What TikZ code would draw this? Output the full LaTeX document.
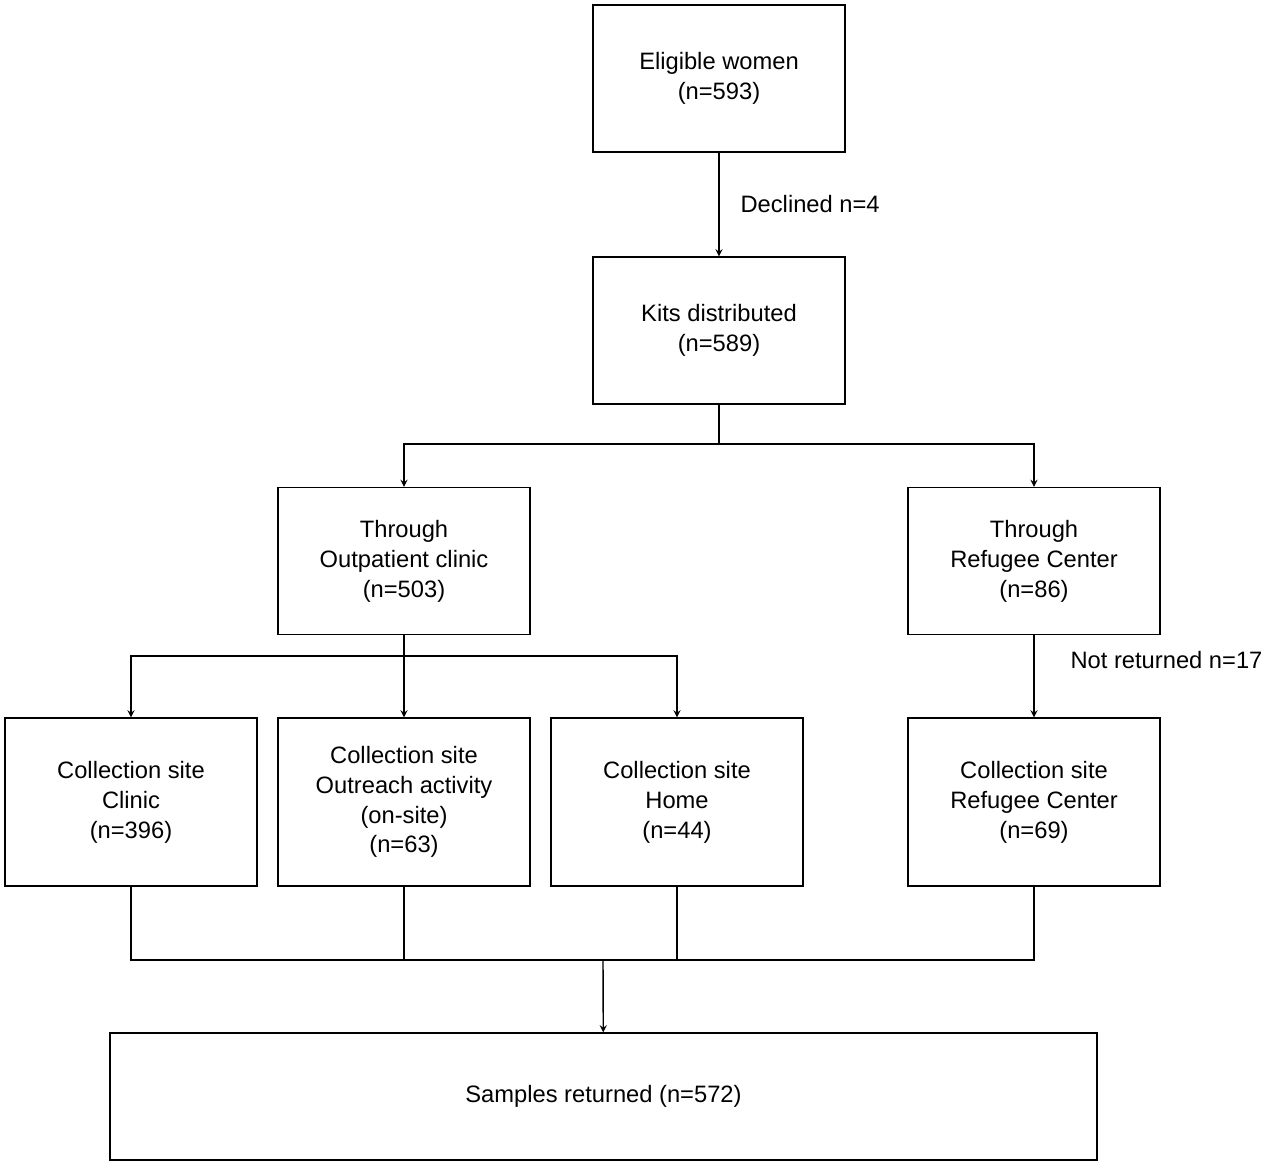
\documentclass[tikz,border=0pt]{standalone}
\usepackage{fontspec}
\setmainfont{Liberation Sans}
\usetikzlibrary{positioning}
\begin{document}
\begin{tikzpicture}[x=0.02cm,y=-0.02cm,>=stealth,thick,
  box/.style={draw,align=center,minimum width=5.04cm,minimum height=2.94cm,font=\fontsize{13.5}{17}\selectfont},
  site/.style={box,minimum height=3.36cm},
  lbl/.style={font=\fontsize{13.5}{17}\selectfont}]
\useasboundingbox (0,0) rectangle (1280,1171);

\node[box] (elig) at (719,78.5) {Eligible women\\(n=593)};
\node[box] (kits) at (719,330.5) {Kits distributed\\(n=589)};
\node[box] (outp) at (404,561) {Through\\Outpatient clinic\\(n=503)};
\node[box] (refu) at (1034,561) {Through\\Refugee Center\\(n=86)};
\node[site] (clin) at (131,802) {Collection site\\Clinic\\(n=396)};
\node[site] (outr) at (404,802) {Collection site\\Outreach activity\\(on-site)\\(n=63)};
\node[site] (home) at (677,802) {Collection site\\Home\\(n=44)};
\node[site] (rcs) at (1034,802) {Collection site\\Refugee Center\\(n=69)};
\node[draw,minimum width=19.74cm,minimum height=2.54cm,lbl] (samp) at (603.5,1096.5) {Samples returned (n=572)};

\coordinate (split) at (719,444);
\coordinate (osplit) at (404,656);
\coordinate (merge) at (603,960);

\draw[->] (elig) -- node[right=0.3cm,lbl] {Declined n=4} (kits);
\draw (kits) -- (split);
\draw[->] (split) -| (outp);
\draw[->] (split) -| (refu);
\draw[->] (outp) -- (outr);
\draw[->] (osplit) -| (clin);
\draw[->] (osplit) -| (home);
\draw[->] (refu) -- node[right=0.6cm,pos=0.3,lbl] {Not returned n=17} (rcs);

\draw (clin) |- (merge);
\draw (outr.south) |- (merge);
\draw (home.south) |- (merge);
\draw (rcs) |- (merge);
\draw[->] (merge) -- (samp);

\end{tikzpicture}
\end{document}
